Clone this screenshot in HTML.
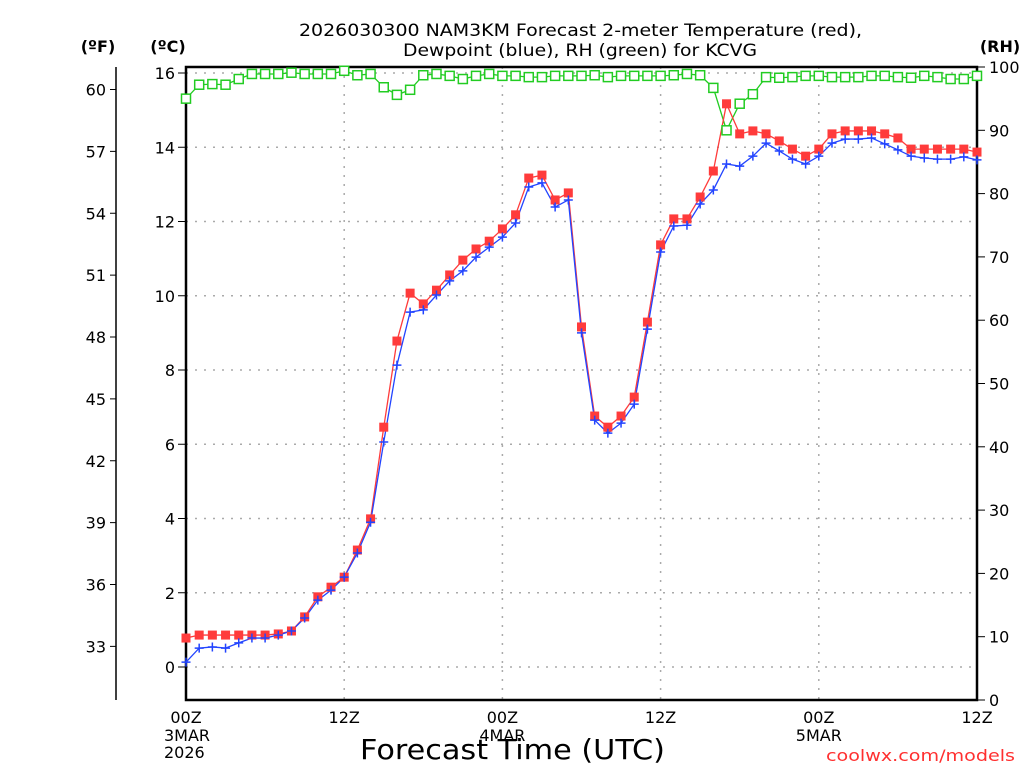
<!DOCTYPE html>
<html><head><meta charset="utf-8"><style>
body{margin:0;background:#fff;}
svg{display:block;font-family:"DejaVu Sans","Liberation Sans",sans-serif;}
</style></head><body>
<svg id="chart" width="1024" height="768" viewBox="0 0 1024 768">
<g font-size="17" fill="#000">
<text x="299" y="36" textLength="563" lengthAdjust="spacingAndGlyphs">2026030300 NAM3KM Forecast 2-meter Temperature (red),</text>
<text x="403" y="56" textLength="354" lengthAdjust="spacingAndGlyphs">Dewpoint (blue), RH (green) for KCVG</text>
</g>
<text x="98" y="52" font-size="16" font-weight="bold" text-anchor="middle">(ºF)</text>
<text x="168" y="52" font-size="16" font-weight="bold" text-anchor="middle">(ºC)</text>
<text x="1000" y="52" font-size="16" font-weight="bold" text-anchor="middle">(RH)</text>
<g id="grid"></g>
<g id="axes"></g>
<g id="series"></g>
<text x="360" y="759" font-size="28" textLength="305" lengthAdjust="spacingAndGlyphs">Forecast Time (UTC)</text>
<text x="826" y="761" font-size="16" fill="#ff3030" textLength="189" lengthAdjust="spacingAndGlyphs">coolwx.com/models</text>
</svg>
<script>
const tempC=[0.78,0.86,0.86,0.86,0.86,0.86,0.86,0.89,0.97,1.35,1.89,2.15,2.42,3.15,3.99,6.46,8.78,10.07,9.78,10.15,10.56,10.96,11.26,11.47,11.8,12.18,13.17,13.25,12.58,12.77,9.16,6.76,6.46,6.76,7.27,9.29,11.37,12.07,12.07,12.66,13.36,15.17,14.36,14.44,14.36,14.17,13.95,13.76,13.95,14.36,14.44,14.44,14.44,14.36,14.25,13.95,13.95,13.95,13.95,13.95,13.87];
const dewC=[0.13,0.51,0.54,0.51,0.65,0.78,0.78,0.86,0.97,1.32,1.8,2.07,2.42,3.07,3.9,6.06,8.13,9.56,9.62,10.02,10.4,10.67,11.04,11.31,11.58,11.96,12.93,13.04,12.39,12.58,9.0,6.65,6.3,6.57,7.08,9.1,11.18,11.88,11.9,12.47,12.85,13.55,13.49,13.76,14.11,13.9,13.68,13.55,13.76,14.11,14.22,14.22,14.25,14.09,13.93,13.76,13.71,13.68,13.68,13.74,13.66];
const rh=[95,97.2,97.3,97.2,98.1,98.9,98.9,98.9,99.1,98.9,98.9,98.9,99.4,98.7,98.9,96.8,95.6,96.4,98.7,98.9,98.6,98.1,98.6,98.9,98.6,98.6,98.4,98.4,98.6,98.6,98.6,98.7,98.4,98.6,98.6,98.6,98.6,98.7,98.9,98.7,96.7,90,94.2,95.7,98.4,98.3,98.4,98.6,98.6,98.4,98.4,98.4,98.6,98.6,98.4,98.3,98.6,98.4,98.1,98.1,98.6];
const cTicks=[0,2,4,6,8,10,12,14,16];
const fTicks=[33,36,39,42,45,48,51,54,57,60];
const rhTicks=[0,10,20,30,40,50,60,70,80,90,100];
const xTicks=[0,12,24,36,48,60];
const xTickLabels=["00Z","12Z","00Z","12Z","00Z","12Z"];
const xDateLabels=[["3MAR","2026"],[],["4MAR"],[],["5MAR"],[]];

const NS="http://www.w3.org/2000/svg";
const L=186,R=977,T=67,B=700;
const xS=h=>L+(R-L)*h/60;
const yC=c=>667-c*37.125;
const yF=f=>yC((f-32)/1.8);
const yR=v=>B-(B-T)*v/100;
function mk(tag,attrs,parent){const e=document.createElementNS(NS,tag);for(const k in attrs)e.setAttribute(k,attrs[k]);parent.appendChild(e);return e;}
const grid=document.getElementById('grid'),axes=document.getElementById('axes'),series=document.getElementById('series');

cTicks.forEach(c=>{
 const g=mk('line',{x1:L,x2:R,y1:yC(c),y2:yC(c),stroke:'#aaa','stroke-width':1.5,'stroke-dasharray':'2,7'},grid);
 
 
 const t=mk('line',{x1:178,x2:186,y1:yC(c),y2:yC(c),stroke:'#000','stroke-width':1},axes);
 
 
 const tx=mk('text',{x:175,y:yC(c)+6,'font-size':16,'text-anchor':'end'},axes);tx.textContent=c;
 
 
});
xTicks.forEach((h,i)=>{
 if(i>0&&i<xTicks.length-1){const g=mk('line',{x1:xS(h),x2:xS(h),y1:T,y2:B,stroke:'#aaa','stroke-width':1.5,'stroke-dasharray':'2,7'},grid);
 
 }
 const tx=mk('text',{x:xS(h),y:723,'font-size':16,'text-anchor':'middle'},axes);tx.textContent=xTickLabels[i];
 
 
 xDateLabels[i].forEach((d,j)=>{const t2=mk('text',{x:xS(h),y:741+j*17,'font-size':16,'text-anchor':i==0?'start':'middle'},axes);if(i==0)t2.setAttribute('x',164);t2.textContent=d;
 
 });
});
fTicks.forEach(f=>{
 const t=mk('line',{x1:110,x2:116,y1:yF(f),y2:yF(f),stroke:'#000','stroke-width':1},axes);
 
 
 const tx=mk('text',{x:106,y:yF(f)+6,'font-size':16,'text-anchor':'end'},axes);tx.textContent=f;
 
 
});
rhTicks.forEach(v=>{
 const t=mk('line',{x1:R,x2:985,y1:yR(v),y2:yR(v),stroke:'#000','stroke-width':1},axes);
 
 
 const tx=mk('text',{x:989,y:yR(v)+6,'font-size':16},axes);tx.textContent=v;
 
 
});
const fa=mk('line',{x1:116,x2:116,y1:T,y2:B,stroke:'#000','stroke-width':1.5},axes);


const fr=mk('rect',{x:L,y:T,width:R-L,height:B-T,fill:'none',stroke:'#000','stroke-width':2.5},axes);



function line(vals,yf,color,name){
 const p=mk('polyline',{points:vals.map((v,i)=>xS(i)+','+yf(v)).join(' '),fill:'none',stroke:color,'stroke-width':1.3},series);
 
 
}
line(rh,yR,'#22cc22','rh-line');
line(tempC,yC,'#ff3b3b','temperature-line');
line(dewC,yC,'#2244ff','dewpoint-line');
rh.forEach((v,i)=>{const m=mk('rect',{x:xS(i)-4.5,y:yR(v)-4.5,width:9,height:9,fill:'#fff',stroke:'#22cc22','stroke-width':1.5},series);
 
 });
tempC.forEach((v,i)=>{const m=mk('rect',{x:xS(i)-4.5,y:yC(v)-4.5,width:9,height:9,fill:'#ff3b3b'},series);
 
 });
dewC.forEach((v,i)=>{const m=mk('path',{d:`M${xS(i)-4.5},${yC(v)}h9M${xS(i)},${yC(v)-4.5}v9`,stroke:'#2244ff','stroke-width':1.5},series);
 
 });
</script>
</body></html>
